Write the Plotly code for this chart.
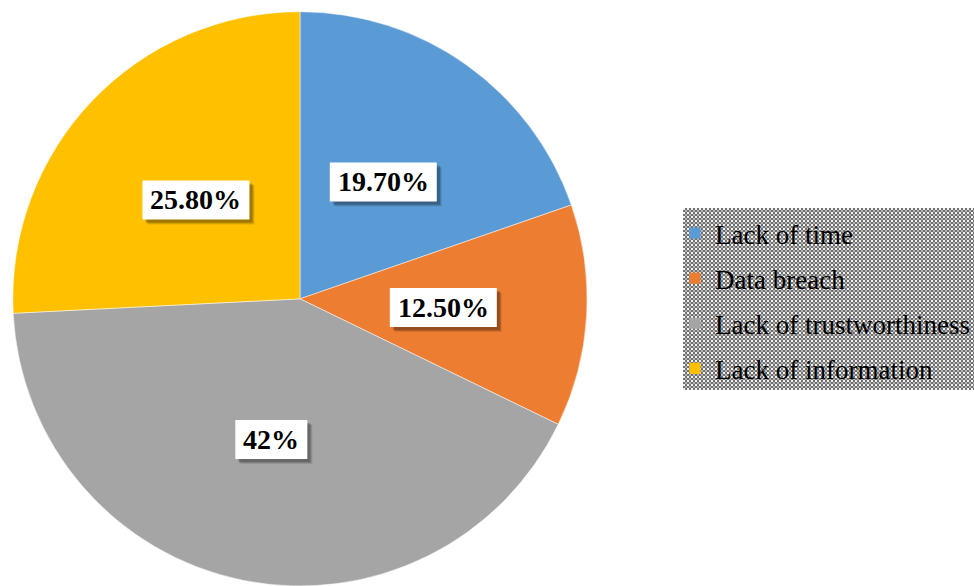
import math
import plotly.graph_objects as go

categories = ["Lack of time", "Data breach", "Lack of trustworthiness", "Lack of information"]
values = [19.7, 12.5, 42.0, 25.8]
label_text = ["19.70%", "12.50%", "42%", "25.80%"]
colors = ["#5B9BD5", "#ED7D31", "#A5A5A5", "#FFC000"]

W, H = 974, 586
LABEL_SIZE = 28
# pie domain (paper fractions)
dom_x = [12 / W, 588 / W]
dom_y = [0.0, 0.98]
cx = (dom_x[0] + dom_x[1]) / 2 * W
cy = (1 - (dom_y[0] + dom_y[1]) / 2) * H
R = min((dom_x[1] - dom_x[0]) * W, (dom_y[1] - dom_y[0]) * H) / 2

fig = go.Figure()
fig.add_trace(go.Pie(
    labels=categories, values=values, sort=False, direction="clockwise", rotation=0,
    marker=dict(colors=colors, line=dict(color="white", width=0.5)),
    textinfo="none", hoverinfo="label+percent", showlegend=False,
    domain=dict(x=dom_x, y=dom_y),
))

# legend entries via dummy traces so that row spacing can be controlled
for i, (c, col) in enumerate(zip(categories, colors)):
    fig.add_trace(go.Scatter(
        x=[None], y=[None], mode="markers", name=c, legendgroup=f"g{i}",
        marker=dict(symbol="square", size=11, color=col),
    ))


def text_width(s, size):
    # rough bold-serif advance widths (em)
    em = {".": 0.25, "%": 1.0}
    return sum(em.get(ch, 0.5) for ch in s) * size


# data labels at half radius along each slice's mid-angle
total = sum(values)
cum = 0.0
annotations = []
shapes = []
for v, t in zip(values, label_text):
    mid = (cum + v / 2) / total * 2 * math.pi
    cum += v
    px = cx + 0.5 * R * math.sin(mid)
    py = cy - 0.5 * R * math.cos(mid)
    xp, yp = px / W, 1 - py / H
    hw = (text_width(t, LABEL_SIZE) + 16) / 2
    hh = 19.5
    # soft shadow, then white box
    for off, alpha in ((5, 0.10), (4, 0.15), (3, 0.18)):
        shapes.append(dict(
            type="rect", xref="paper", yref="paper", xsizemode="pixel", ysizemode="pixel",
            xanchor=xp, yanchor=yp, x0=-hw + off, x1=hw + off, y0=-hh - off, y1=hh - off,
            fillcolor=f"rgba(0,0,0,{alpha})", line=dict(width=0), layer="above",
        ))
    shapes.append(dict(
        type="rect", xref="paper", yref="paper", xsizemode="pixel", ysizemode="pixel",
        xanchor=xp, yanchor=yp, x0=-hw, x1=hw, y0=-hh, y1=hh,
        fillcolor="white", line=dict(width=0), layer="above",
    ))
    annotations.append(dict(
        x=xp, y=yp, xref="paper", yref="paper", text=f"<b>{t}</b>",
        showarrow=False, xanchor="center", yanchor="middle",
        font=dict(family="Liberation Serif", size=LABEL_SIZE, color="black"),
    ))

pattern_svg = (
    "data:image/svg+xml;utf8,"
    "<svg xmlns='http://www.w3.org/2000/svg' width='300' height='182'>"
    "<defs><pattern id='p' width='4' height='4' patternUnits='userSpaceOnUse'>"
    "<rect width='4' height='4' fill='%23707070'/>"
    "<rect x='0' y='0' width='2' height='2' fill='%23f2f2f2'/>"
    "<rect x='2' y='2' width='2' height='2' fill='%23b4b4b4'/>"
    "</pattern></defs>"
    "<rect width='300' height='182' fill='url(%23p)'/></svg>"
)

fig.update_layout(
    width=W, height=H,
    margin=dict(l=0, r=0, t=0, b=0, autoexpand=False),
    paper_bgcolor="white", plot_bgcolor="white",
    xaxis=dict(visible=False), yaxis=dict(visible=False),
    annotations=annotations,
    shapes=shapes,
    images=[dict(source=pattern_svg, xref="paper", yref="paper",
                 x=683 / W, y=1 - 208 / H, sizex=300 / W, sizey=182 / H,
                 xanchor="left", yanchor="top", sizing="stretch", layer="above")],
    legend=dict(x=675 / W, y=1 - 209 / H, xanchor="left", yanchor="top",
                bgcolor="rgba(0,0,0,0)", tracegroupgap=7,
                font=dict(family="Liberation Serif", size=27, color="black"),
                itemclick=False, itemdoubleclick=False),
    font=dict(family="Liberation Serif"),
)

fig.write_html("out.html", config={"displayModeBar": False},
               post_script="document.body.style.margin='0px';")
